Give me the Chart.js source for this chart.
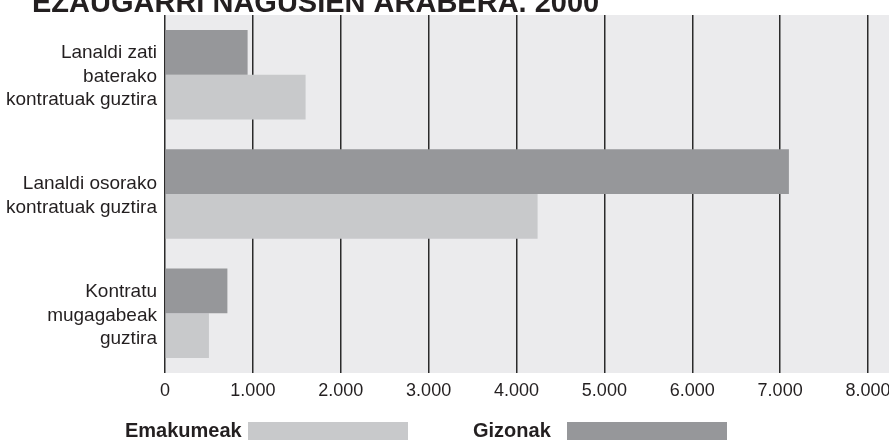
<!DOCTYPE html>
<html>
<head>
<meta charset="utf-8">
<script src="https://cdn.jsdelivr.net/npm/chart.js@4/dist/chart.umd.min.js"></script>
<style>
  html, body { margin: 0; padding: 0; background: #ffffff; }
  #wrap { width: 889px; height: 440px; position: relative; }
</style>
</head>
<body>
<div id="wrap"><canvas id="c" width="889" height="440"></canvas></div>
<script>
// Contract types (multi-line category labels)
const categories = [
  ['Lanaldi zati', 'baterako', 'kontratuak guztira'],
  ['Lanaldi osorako', 'kontratuak guztira'],
  ['Kontratu', 'mugagabeak', 'guztira']
];
const gizonak = [940, 7100, 710];
const emakumeak = [1600, 4240, 500];
const xTicks = [0, 1000, 2000, 3000, 4000, 5000, 6000, 7000, 8000];
const titleText = 'EZAUGARRI NAGUSIEN ARABERA. 2000';

const DARK = '#96979a';
const LIGHT = '#c8c9cb';
const FONT = '"Liberation Sans", Arial, Helvetica, sans-serif';
const INK = '#231f20';

function fmt(v) {
  return String(v).replace(/\B(?=(\d{3})+(?!\d))/g, '.');
}

// Grey plot background behind the grid, running out to the right edge
const plotBg = {
  id: 'plotBg',
  beforeDraw(chart) {
    const { ctx, chartArea: a } = chart;
    ctx.save();
    ctx.fillStyle = '#ebebed';
    ctx.fillRect(a.left, a.top, chart.width - a.left, a.bottom - a.top);
    ctx.restore();
  }
};

// Heading along the top edge
const heading = {
  id: 'heading',
  afterDraw(chart) {
    const ctx = chart.ctx;
    ctx.save();
    ctx.font = 'bold 29px ' + FONT;
    ctx.fillStyle = INK;
    ctx.textBaseline = 'alphabetic';
    ctx.textAlign = 'left';
    ctx.fillText(titleText, 32, 12);
    ctx.restore();
  }
};

// Legend row: label text followed by a wide swatch
const legendRow = {
  id: 'legendRow',
  afterDraw(chart) {
    const ctx = chart.ctx;
    const items = [
      { ds: chart.data.datasets[1], tx: 125, bx: 248 },
      { ds: chart.data.datasets[0], tx: 473, bx: 567 }
    ];
    ctx.save();
    ctx.font = 'bold 20px ' + FONT;
    ctx.textBaseline = 'alphabetic';
    ctx.textAlign = 'left';
    items.forEach(it => {
      ctx.fillStyle = INK;
      ctx.fillText(it.ds.label, it.tx, 437);
      ctx.fillStyle = it.ds.backgroundColor;
      ctx.fillRect(it.bx, 422, 160, 18);
    });
    ctx.restore();
  }
};

new Chart(document.getElementById('c'), {
  type: 'bar',
  data: {
    labels: categories,
    datasets: [
      { label: 'Gizonak', data: gizonak, backgroundColor: DARK },
      { label: 'Emakumeak', data: emakumeak, backgroundColor: LIGHT }
    ]
  },
  options: {
    indexAxis: 'y',
    responsive: false,
    animation: false,
    events: [],
    layout: { padding: { top: 15, right: 21, bottom: 30, left: 0 } },
    datasets: {
      bar: { categoryPercentage: 0.75, barPercentage: 1.0, borderWidth: 0 }
    },
    plugins: {
      legend: { display: false },
      title: { display: false },
      tooltip: { enabled: false }
    },
    scales: {
      x: {
        type: 'linear',
        min: 0,
        max: 8000,
        afterBuildTicks(scale) {
          scale.ticks = xTicks.map(v => ({ value: v }));
        },
        afterFit(scale) {
          scale.height = 37;
          scale.paddingLeft = 0;
          scale.paddingRight = 0;
        },
        grid: { color: '#2b2b2b', lineWidth: 1.5, drawTicks: false },
        border: { display: false },
        ticks: {
          padding: 7,
          color: INK,
          font: { family: FONT, size: 18 },
          maxRotation: 0,
          callback: v => fmt(v)
        }
      },
      y: {
        afterFit(scale) {
          scale.width = 165;
          scale.paddingTop = 0;
          scale.paddingBottom = 0;
        },
        grid: { display: false, drawTicks: false },
        border: { display: false },
        ticks: {
          padding: 8,
          labelOffset: 2,
          color: INK,
          font: { family: FONT, size: 19, lineHeight: 1.24 }
        }
      }
    }
  },
  plugins: [plotBg, heading, legendRow]
});
</script>
</body>
</html>
